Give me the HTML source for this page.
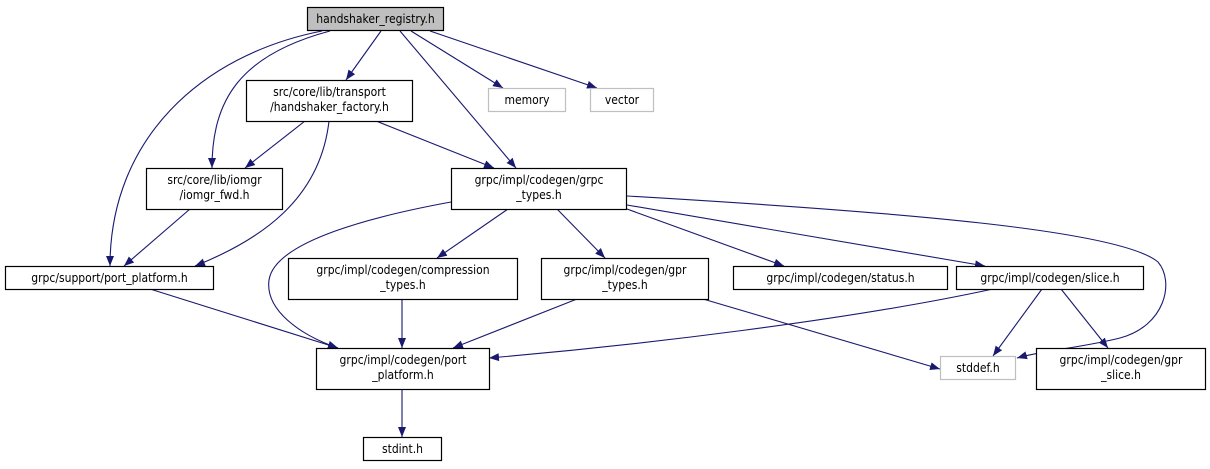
<!DOCTYPE html>
<html><head><meta charset="utf-8"><style>
html,body{margin:0;padding:0;background:#fff;}
svg{display:block;}
text{font-family:"DejaVu Sans Condensed","DejaVu Sans","Liberation Sans",sans-serif;font-stretch:condensed;font-size:12px;fill:#000;text-anchor:middle;}
.b{fill:#fff;stroke:#000;stroke-width:1.2;}
.g{fill:#fff;stroke:#bfbfbf;stroke-width:1.2;}
.e{fill:none;stroke:#191970;stroke-width:1.1;marker-end:url(#a);}
</style></head><body>
<svg width="1210" height="469" viewBox="0 0 1210 469">
<defs><marker id="a" viewBox="0 0 10 10" refX="10" refY="5" markerWidth="10" markerHeight="10" markerUnits="userSpaceOnUse" orient="auto"><path d="M0,1 L10,5 L0,9 z" fill="#191970"/></marker></defs>
<path class="e" d="M322,31 C200,55 110,140 110,266"/>
<path class="e" d="M330,31 C240,55 212,100 212,168"/>
<path class="e" d="M381,31 L346,80"/>
<path class="e" d="M400,31 L516,168"/>
<path class="e" d="M411,31 L503,88"/>
<path class="e" d="M430,31 L597,88"/>
<path class="e" d="M305,121 L245,168"/>
<path class="e" d="M329,121 C320,200 260,240 195,266"/>
<path class="e" d="M376,121 L494,168"/>
<path class="e" d="M190,209 L124,266"/>
<path class="e" d="M451,202 C380,215 275,240 269,280 C265,310 300,335 338,348"/>
<path class="e" d="M508,209 L437,258"/>
<path class="e" d="M557,209 L605,258"/>
<path class="e" d="M627,209 L784,266"/>
<path class="e" d="M627,205 L985,266"/>
<path class="e" d="M627,196 C900,212 1120,230 1158,262 C1175,282 1165,326 1120,338 C1080,348 1045,350 1017,358"/>
<path class="e" d="M150,289 L338,348"/>
<path class="e" d="M402,299 L402,348"/>
<path class="e" d="M577,299 L453,348"/>
<path class="e" d="M703,299 L940,369"/>
<path class="e" d="M993,289 C850,320 640,345 489,358"/>
<path class="e" d="M1042,289 L993,356"/>
<path class="e" d="M1061,289 L1108,348"/>
<path class="e" d="M402,389 L402,437"/>
<rect x="307.5" y="7.5" width="136" height="23" fill="#bfbfbf" stroke="#000" stroke-width="1.2"/>
<text x="375.5" y="23">handshaker_registry.h</text>
<rect class="b" x="246.5" y="80.5" width="166" height="41"/>
<text x="329.5" y="96">src/core/lib/transport</text><text x="329.5" y="111">/handshaker_factory.h</text>
<rect class="g" x="488.5" y="88.5" width="77" height="23"/><text x="527" y="104">memory</text>
<rect class="g" x="590.5" y="88.5" width="63" height="23"/><text x="622" y="104">vector</text>
<rect class="b" x="146.5" y="168.5" width="136" height="41"/>
<text x="214.5" y="184">src/core/lib/iomgr</text><text x="214.5" y="199">/iomgr_fwd.h</text>
<rect class="b" x="451.5" y="168.5" width="175" height="41"/>
<text x="539" y="184">grpc/impl/codegen/grpc</text><text x="539" y="199">_types.h</text>
<rect class="b" x="5.5" y="266.5" width="208" height="23"/><text x="109.5" y="282">grpc/support/port_platform.h</text>
<rect class="b" x="288.5" y="258.5" width="229" height="41"/>
<text x="403" y="274">grpc/impl/codegen/compression</text><text x="403" y="289">_types.h</text>
<rect class="b" x="541.5" y="258.5" width="167" height="41"/>
<text x="625" y="274">grpc/impl/codegen/gpr</text><text x="625" y="289">_types.h</text>
<rect class="b" x="733.5" y="266.5" width="214" height="23"/><text x="840.5" y="282">grpc/impl/codegen/status.h</text>
<rect class="b" x="956.5" y="266.5" width="187" height="23"/><text x="1050" y="282">grpc/impl/codegen/slice.h</text>
<rect class="b" x="316.5" y="348.5" width="173" height="41"/>
<text x="403" y="364">grpc/impl/codegen/port</text><text x="403" y="379">_platform.h</text>
<rect class="g" x="940.5" y="356.5" width="75" height="23"/><text x="978" y="372">stddef.h</text>
<rect class="b" x="1036.5" y="348.5" width="169" height="41"/>
<text x="1121" y="364">grpc/impl/codegen/gpr</text><text x="1121" y="379">_slice.h</text>
<rect class="b" x="363.5" y="437.5" width="78" height="23"/><text x="402.5" y="453">stdint.h</text>
</svg>
</body></html>
